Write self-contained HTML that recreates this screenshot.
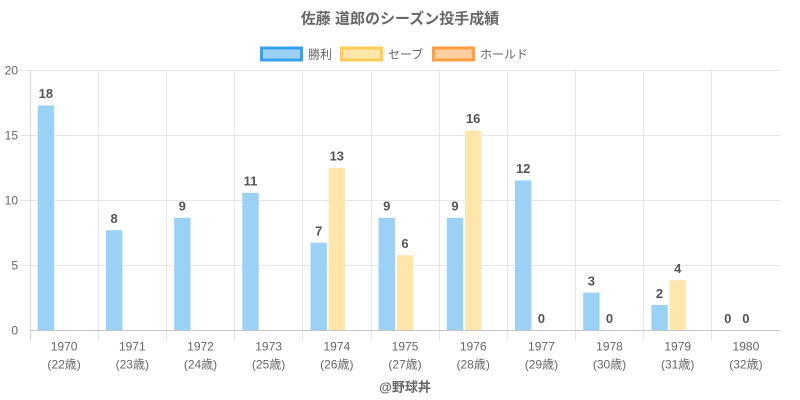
<!DOCTYPE html>
<html><head><meta charset="utf-8"><style>
html,body{margin:0;padding:0;background:#fff;}
svg{display:block;}
text{font-family:"Liberation Sans","Noto Sans CJK JP",sans-serif;}
</style></head><body>
<svg width="800" height="400" viewBox="0 0 800 400" xmlns="http://www.w3.org/2000/svg">
<text x="400" y="23.5" text-anchor="middle" font-size="15" font-weight="bold" fill="#666">佐藤 道郎のシーズン投手成績</text>
<!-- legend -->
<rect x="261.5" y="48" width="40" height="12" fill="#9bd1f5" stroke="#36a2eb" stroke-width="3"/>
<text x="308" y="58.5" font-size="12" fill="#666">勝利</text>
<rect x="341.5" y="48" width="40" height="12" fill="#ffe6ab" stroke="#ffcd56" stroke-width="3"/>
<text x="388" y="58.5" font-size="12" fill="#666">セーブ</text>
<rect x="433.5" y="48" width="40" height="12" fill="#ffcf9f" stroke="#ff9f40" stroke-width="3"/>
<text x="480" y="58.5" font-size="12" fill="#666">ホールド</text>
<!-- grid -->
<g stroke="#e6e6e6" stroke-width="1">
<line x1="20" y1="70.5" x2="780" y2="70.5"/>
<line x1="20" y1="135.5" x2="780" y2="135.5"/>
<line x1="20" y1="200.5" x2="780" y2="200.5"/>
<line x1="20" y1="265.5" x2="780" y2="265.5"/>
<line x1="98.5" y1="70" x2="98.5" y2="341"/>
<line x1="166.5" y1="70" x2="166.5" y2="341"/>
<line x1="234.5" y1="70" x2="234.5" y2="341"/>
<line x1="302.5" y1="70" x2="302.5" y2="341"/>
<line x1="371.5" y1="70" x2="371.5" y2="341"/>
<line x1="439.5" y1="70" x2="439.5" y2="341"/>
<line x1="507.5" y1="70" x2="507.5" y2="341"/>
<line x1="575.5" y1="70" x2="575.5" y2="341"/>
<line x1="643.5" y1="70" x2="643.5" y2="341"/>
<line x1="711.5" y1="70" x2="711.5" y2="341"/>
</g>
<line x1="30.5" y1="70" x2="30.5" y2="341" stroke="#d8d8d8"/>
<!-- y labels -->
<g font-size="12" fill="#666" text-anchor="end">
<text x="18" y="74.5">20</text>
<text x="18" y="139.5">15</text>
<text x="18" y="204.5">10</text>
<text x="18" y="269.5">5</text>
<text x="18" y="334.5">0</text>
</g>
<!-- bars -->
<g fill="#9bd1f5">
<rect x="37.7" y="105.5" width="16.4" height="224.5"/>
<rect x="105.9" y="230.2" width="16.4" height="99.8"/>
<rect x="174.1" y="217.8" width="16.4" height="112.2"/>
<rect x="242.3" y="192.8" width="16.4" height="137.2"/>
<rect x="310.5" y="242.7" width="16.4" height="87.3"/>
<rect x="378.6" y="217.8" width="16.4" height="112.2"/>
<rect x="446.8" y="217.8" width="16.4" height="112.2"/>
<rect x="515" y="180.4" width="16.4" height="149.6"/>
<rect x="583.2" y="292.6" width="16.4" height="37.4"/>
<rect x="651.4" y="305" width="16.4" height="25"/>
</g>
<g fill="#ffe6ab">
<rect x="328.6" y="167.9" width="16.4" height="162.1"/>
<rect x="396.8" y="255.2" width="16.4" height="74.8"/>
<rect x="465" y="130.5" width="16.4" height="199.5"/>
<rect x="669.5" y="280.1" width="16.4" height="49.9"/>
</g>
<line x1="30" y1="330.5" x2="780" y2="330.5" stroke="#c4c4c4" stroke-width="1"/>
<!-- value labels -->
<g font-size="13" font-weight="bold" fill="#555" text-anchor="middle">
<text x="45.9" y="98">18</text>
<text x="114.1" y="223">8</text>
<text x="182.3" y="210.5">9</text>
<text x="250.5" y="185.5">11</text>
<text x="318.7" y="235.5">7</text>
<text x="336.8" y="160.5">13</text>
<text x="386.8" y="210.5">9</text>
<text x="405" y="248">6</text>
<text x="455" y="210.5">9</text>
<text x="473.2" y="123">16</text>
<text x="523.2" y="173">12</text>
<text x="541.4" y="323">0</text>
<text x="591.4" y="285.5">3</text>
<text x="609.5" y="323">0</text>
<text x="659.5" y="298">2</text>
<text x="677.7" y="273">4</text>
<text x="727.7" y="323">0</text>
<text x="745.9" y="323">0</text>
</g>
<!-- x labels -->
<g font-size="12" fill="#666" text-anchor="middle">
<text x="64.1" y="350.5">1970</text><text x="64.1" y="368.5">(22歳)</text>
<text x="132.3" y="350.5">1971</text><text x="132.3" y="368.5">(23歳)</text>
<text x="200.5" y="350.5">1972</text><text x="200.5" y="368.5">(24歳)</text>
<text x="268.6" y="350.5">1973</text><text x="268.6" y="368.5">(25歳)</text>
<text x="336.8" y="350.5">1974</text><text x="336.8" y="368.5">(26歳)</text>
<text x="405" y="350.5">1975</text><text x="405" y="368.5">(27歳)</text>
<text x="473.2" y="350.5">1976</text><text x="473.2" y="368.5">(28歳)</text>
<text x="541.4" y="350.5">1977</text><text x="541.4" y="368.5">(29歳)</text>
<text x="609.5" y="350.5">1978</text><text x="609.5" y="368.5">(30歳)</text>
<text x="677.7" y="350.5">1979</text><text x="677.7" y="368.5">(31歳)</text>
<text x="745.9" y="350.5">1980</text><text x="745.9" y="368.5">(32歳)</text>
</g>
<text x="405" y="391.5" text-anchor="middle" font-size="13" font-weight="bold" fill="#666">@野球丼</text>
</svg>
</body></html>
